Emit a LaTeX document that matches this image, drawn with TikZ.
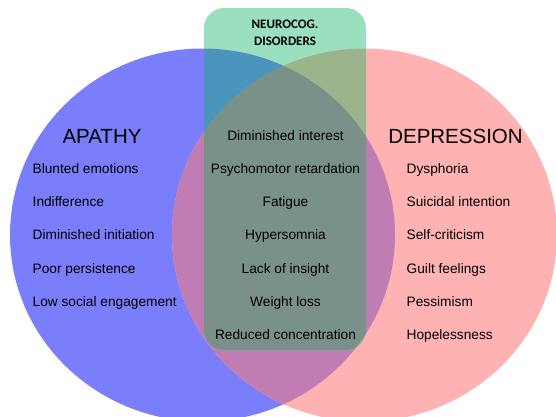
\documentclass[tikz,border=0pt]{standalone}
\usepackage{fontspec}
\setmainfont{Liberation Sans}
\newfontfamily\calfont{Carlito}

\definecolor{apblue}{RGB}{122,126,250}
\definecolor{dppink}{RGB}{255,178,178}
\definecolor{bothcol}{RGB}{192,125,180}
\definecolor{ncgreen}{RGB}{155,224,190}
\definecolor{ncblue}{RGB}{74,148,190}
\definecolor{ncpink}{RGB}{155,180,140}
\definecolor{allcol}{RGB}{122,145,137}

\begin{document}
\begin{tikzpicture}[x=1pt,y=-1pt,
	item/.style={anchor=base west, inner sep=0pt, font=\fontsize{13.7}{16}\selectfont},
	mid/.style={item, anchor=base},
	title/.style={anchor=base, inner sep=0pt, font=\fontsize{20.5}{24}\selectfont},
	ncg/.style={anchor=base, inner sep=0pt, font=\calfont\bfseries\fontsize{13}{16}\selectfont}]
	\useasboundingbox (0,0) rectangle (556,416);

	%sets
	\def\apathy{(202.5,235) ellipse [x radius=192.5pt, y radius=186.5pt]}
	\def\depress{(364.5,235) ellipse [x radius=192.5pt, y radius=186.5pt]}
	\def\neuro{[rounded corners=20pt] (204,8) rectangle (366,350)}

	\fill[apblue] \apathy;
	\fill[dppink] \depress;
	\begin{scope}
		\clip \apathy;
		\fill[bothcol] \depress;
	\end{scope}
	\fill[ncgreen] \neuro;
	\begin{scope}
		\clip \neuro;
		\fill[ncblue] \apathy;
		\fill[ncpink] \depress;
		\clip \apathy;
		\fill[allcol] \depress;
	\end{scope}

	%titles
	\node[ncg] (ncg1) at (285,28) {NEUROCOG.};
	\node[ncg] (ncg2) at (285,45.5) {DISORDERS};
	\node[title] (apathy) at (102,143.3) {APATHY};
	\node[title] (depression) at (455.5,143.3) {DEPRESSION};

	%items
	\foreach \t [count=\i] in {Blunted emotions, Indifference, Diminished initiation,
		Poor persistence, Low social engagement}
		\node[item] (ap\i) at (32.5, 140+33.33*\i) {\t};

	\foreach \t [count=\i from 0] in {Diminished interest, Psychomotor retardation,
		Fatigue, Hypersomnia, Lack of insight, Weight loss, Reduced concentration}
		\node[mid] (both\i) at (285.5, 140+33.33*\i) {\t};

	\foreach \t [count=\i] in {Dysphoria, Suicidal intention, Self-criticism,
		Guilt feelings, Pessimism, Hopelessness}
		\node[item] (dp\i) at (406.5, 140+33.33*\i) {\t};

\end{tikzpicture}
\end{document}
